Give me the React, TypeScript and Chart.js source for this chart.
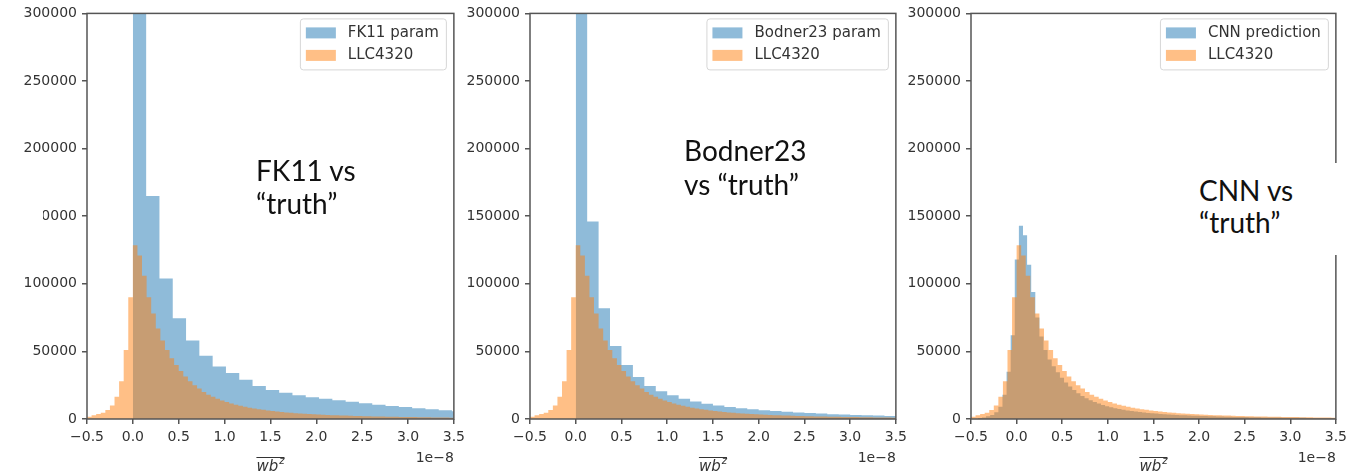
import React, { useEffect, useRef } from "react";
import { Chart, registerables } from "chart.js";

Chart.register(...registerables);

// ---------- data (x in units of 1e-8) ----------
const xTickValues = [-0.5, 0, 0.5, 1, 1.5, 2, 2.5, 3, 3.5];
const xTickLabels = ["−0.5", "0.0", "0.5", "1.0", "1.5", "2.0", "2.5", "3.0", "3.5"];
const yTickValues = [0, 50000, 100000, 150000, 200000, 250000, 300000];
const yTickLabels = ["0", "50000", "100000", "150000", "200000", "250000", "300000"];

// LLC4320 ("truth") histogram
const llcStart = -0.5;
const llcWidth = 0.05;
const llcCounts = [
  1700, 2700, 3700, 4700, 6600, 10000, 16500, 28000, 51000, 90000,
  128500, 121000, 106000, 90000, 78000, 67000, 58000, 51000, 45000, 40000,
  35500, 31500, 28000, 25000, 22500, 20000, 18000, 16500, 15000, 13700,
  12500, 11500, 10600, 9800, 9000, 8400, 7800, 7300, 6800, 6300,
  5900, 5500, 5200, 4900, 4600, 4300, 4100, 3900, 3700, 3500,
  3300, 3100, 3000, 2800, 2700, 2600, 2500, 2400, 2300, 2200,
  2100, 2000, 1900, 1850, 1800, 1700, 1650, 1600, 1550, 1500,
  1450, 1400, 1350, 1300, 1250, 1200, 1150, 1100, 1050, 1000,
];

// FK11 parameterization
const fk11Start = 0;
const fk11Width = 0.145;
const fk11Counts = [
  420000, 165000, 104000, 74500, 58000, 46700, 38800, 34000, 29000, 24500,
  21500, 19500, 17500, 16000, 15000, 13800, 12700, 11600, 10600, 9700,
  8800, 8000, 7200, 6400, 5700,
];

// Bodner23 parameterization
const bodnerStart = 0;
const bodnerWidth = 0.125;
const bodnerCounts = [
  400000, 146000, 82000, 54000, 40000, 31000, 24500, 20500, 17500, 15000,
  13000, 11300, 10000, 8900, 8000, 7200, 6500, 5900, 5300, 4800,
  4400, 4000, 3600, 3300, 3000, 2700, 2500, 2300,
];

// CNN prediction
const cnnStart = -0.425;
const cnnWidth = 0.045;
const cnnCounts = [
  800, 1200, 2000, 3000, 5000, 9000, 18000, 35000, 62000, 118000,
  143000, 136000, 114000, 94000, 75000, 61000, 51000, 44000, 39000, 34500,
  30500, 27000, 24000, 21500, 19000, 17000, 15300, 13800, 12500, 11400,
  10400, 9500, 8700, 8000, 7400, 6800, 6300, 5900, 5500, 5100,
  4800, 4500, 4200, 4000, 3700, 3500, 3300, 3150, 3000, 2850,
  2700, 2600, 2450, 2350, 2250, 2150, 2050, 1950, 1870, 1790,
  1710, 1640, 1570, 1510, 1450, 1390, 1340, 1290, 1240, 1200,
  1160, 1120, 1080, 1040, 1000, 970, 940, 910, 880, 850,
  820, 800, 770, 750, 730, 710, 690,
];

const BLUE = "rgba(31,119,180,0.5)";
const ORANGE = "rgba(255,127,14,0.5)";
const AXIS = "#555";
const TEXT = "#333";
const FONT = "DejaVu Sans";

function buildSteps(start: number, width: number, counts: number[]) {
  const pts: { x: number; y: number }[] = [{ x: start, y: 0 }];
  counts.forEach((c, i) => pts.push({ x: start + i * width, y: c }));
  pts.push({ x: start + counts.length * width, y: 0 });
  return pts;
}

type PanelProps = {
  left: number;
  width: number;
  padRight: number;
  blueLabel: string;
  blueStart: number;
  blueWidth: number;
  blueCounts: number[];
};

function Panel({ left, width, padRight, blueLabel, blueStart, blueWidth, blueCounts }: PanelProps) {
  const ref = useRef<HTMLCanvasElement>(null);
  useEffect(() => {
    const canvas = ref.current!;
    const overlay = {
      id: "overlay",
      afterDatasetsDraw(chart: any) {
        const { ctx, chartArea: a } = chart;
        ctx.save();
        ctx.strokeStyle = AXIS;
        ctx.lineWidth = 1.5;
        ctx.strokeRect(a.left, a.top, a.right - a.left, a.bottom - a.top);
        ctx.restore();
      },
      afterDraw(chart: any) {
        const { ctx, chartArea: a } = chart;
        ctx.save();
        // legend
        ctx.font = `15px "${FONT}"`;
        const items = [
          { label: blueLabel, color: BLUE },
          { label: "LLC4320", color: ORANGE },
        ];
        const tw = Math.max(...items.map((it) => ctx.measureText(it.label).width));
        const boxW = 6 + 30 + 12 + tw + 7;
        const boxH = 51;
        const bx = a.right - 8 - boxW;
        const by = a.top + 5;
        ctx.beginPath();
        ctx.roundRect(bx + 0.5, by + 0.5, boxW, boxH, 3);
        ctx.fillStyle = "rgba(255,255,255,0.8)";
        ctx.fill();
        ctx.strokeStyle = "#d6d6d6";
        ctx.lineWidth = 1;
        ctx.stroke();
        items.forEach((it, i) => {
          const cy = by + 14.5 + i * 22.5;
          ctx.fillStyle = it.color;
          ctx.fillRect(bx + 6, cy - 5.5, 30, 11);
          ctx.fillStyle = TEXT;
          ctx.textBaseline = "middle";
          ctx.textAlign = "left";
          ctx.fillText(it.label, bx + 48, cy);
        });
        // offset text
        ctx.font = `14px "${FONT}"`;
        ctx.textAlign = "right";
        ctx.textBaseline = "alphabetic";
        ctx.fillStyle = TEXT;
        ctx.fillText("1e−8", a.right, 462);
        // axis label: overline(wb^z)
        const cx = (a.left + a.right) / 2;
        ctx.font = `italic 15px "${FONT}"`;
        const w1 = ctx.measureText("wb").width;
        ctx.font = `italic 10px "${FONT}"`;
        const w2 = ctx.measureText("z").width;
        const total = w1 + 1 + w2;
        const x0 = cx - total / 2;
        ctx.textAlign = "left";
        ctx.font = `italic 15px "${FONT}"`;
        ctx.fillText("wb", x0, 471);
        ctx.font = `italic 10px "${FONT}"`;
        ctx.fillText("z", x0 + w1 + 1, 464);
        ctx.beginPath();
        ctx.strokeStyle = TEXT;
        ctx.lineWidth = 1;
        ctx.moveTo(x0, 457.5);
        ctx.lineTo(x0 + total, 457.5);
        ctx.stroke();
        ctx.restore();
      },
    };
    const chart = new Chart(canvas, {
      type: "line",
      data: {
        datasets: [
          {
            label: blueLabel,
            data: buildSteps(blueStart, blueWidth, blueCounts),
            stepped: "before",
            fill: "origin",
            backgroundColor: BLUE,
            borderColor: "transparent",
            borderWidth: 0,
            pointRadius: 0,
            order: 2,
          },
          {
            label: "LLC4320",
            data: buildSteps(llcStart, llcWidth, llcCounts),
            stepped: "before",
            fill: "origin",
            backgroundColor: ORANGE,
            borderColor: "transparent",
            borderWidth: 0,
            pointRadius: 0,
            order: 1,
          },
        ],
      } as any,
      options: {
        animation: false,
        responsive: false,
        events: [],
        layout: { padding: { top: 13, right: padRight, left: 0, bottom: 0 } },
        plugins: { legend: { display: false }, tooltip: { enabled: false } },
        scales: {
          x: {
            type: "linear",
            min: -0.5,
            max: 3.5,
            afterBuildTicks: (s: any) => {
              s.ticks = xTickValues.map((v) => ({ value: v }));
            },
            afterFit: (s: any) => {
              s.height = 56;
            },
            ticks: {
              autoSkip: false,
              maxRotation: 0,
              padding: 5,
              color: TEXT,
              font: { family: FONT, size: 14 },
              callback: (v: any) => xTickLabels[xTickValues.indexOf(Number(v))] ?? "",
            },
            grid: { drawOnChartArea: false, color: AXIS, lineWidth: 1.5, tickLength: 5 },
            border: { display: false },
          },
          y: {
            type: "linear",
            min: 0,
            max: 300000,
            afterBuildTicks: (s: any) => {
              s.ticks = yTickValues.map((v) => ({ value: v }));
            },
            afterFit: (s: any) => {
              s.width = 87;
            },
            ticks: {
              autoSkip: false,
              padding: 5,
              color: TEXT,
              font: { family: FONT, size: 14 },
              callback: (v: any) => yTickLabels[yTickValues.indexOf(Number(v))] ?? "",
            },
            grid: { drawOnChartArea: false, color: AXIS, lineWidth: 1.5, tickLength: 5 },
            border: { display: false },
          },
        },
      } as any,
      plugins: [overlay],
    });
    return () => chart.destroy();
  }, []);
  return (
    <canvas
      ref={ref}
      width={width}
      height={475}
      style={{ position: "absolute", left, top: 0, width, height: 475 }}
    />
  );
}

const noteStyle: React.CSSProperties = {
  position: "absolute",
  fontFamily: "Lato, 'Open Sans', sans-serif",
  fontSize: 28,
  lineHeight: "33px",
  color: "#111",
  whiteSpace: "nowrap",
};

export default function App() {
  return (
    <div
      style={{
        position: "absolute",
        left: 0,
        top: 0,
        width: 1352,
        height: 475,
        background: "#fff",
        overflow: "hidden",
      }}
    >
      <Panel left={0} width={470} padRight={14} blueLabel="FK11 param" blueStart={fk11Start} blueWidth={fk11Width} blueCounts={fk11Counts} />
      <Panel left={443} width={469} padRight={14} blueLabel="Bodner23 param" blueStart={bodnerStart} blueWidth={bodnerWidth} blueCounts={bodnerCounts} />
      <Panel left={884} width={468} padRight={13} blueLabel="CNN prediction" blueStart={cnnStart} blueWidth={cnnWidth} blueCounts={cnnCounts} />

      <div style={{ position: "absolute", left: 0, top: 204, width: 43, height: 26, background: "#fff" }} />
      <div style={{ position: "absolute", left: 1188, top: 163, width: 164, height: 92, background: "#fff" }} />

      <div style={{ ...noteStyle, left: 256, top: 154 }}>
        FK11 vs
        <br />
        “truth”
      </div>
      <div style={{ ...noteStyle, left: 684, top: 133, lineHeight: "34px" }}>
        Bodner23
        <br />
        vs “truth”
      </div>
      <div style={{ ...noteStyle, left: 1199, top: 174, lineHeight: "32px" }}>
        CNN vs
        <br />
        “truth”
      </div>
    </div>
  );
}
